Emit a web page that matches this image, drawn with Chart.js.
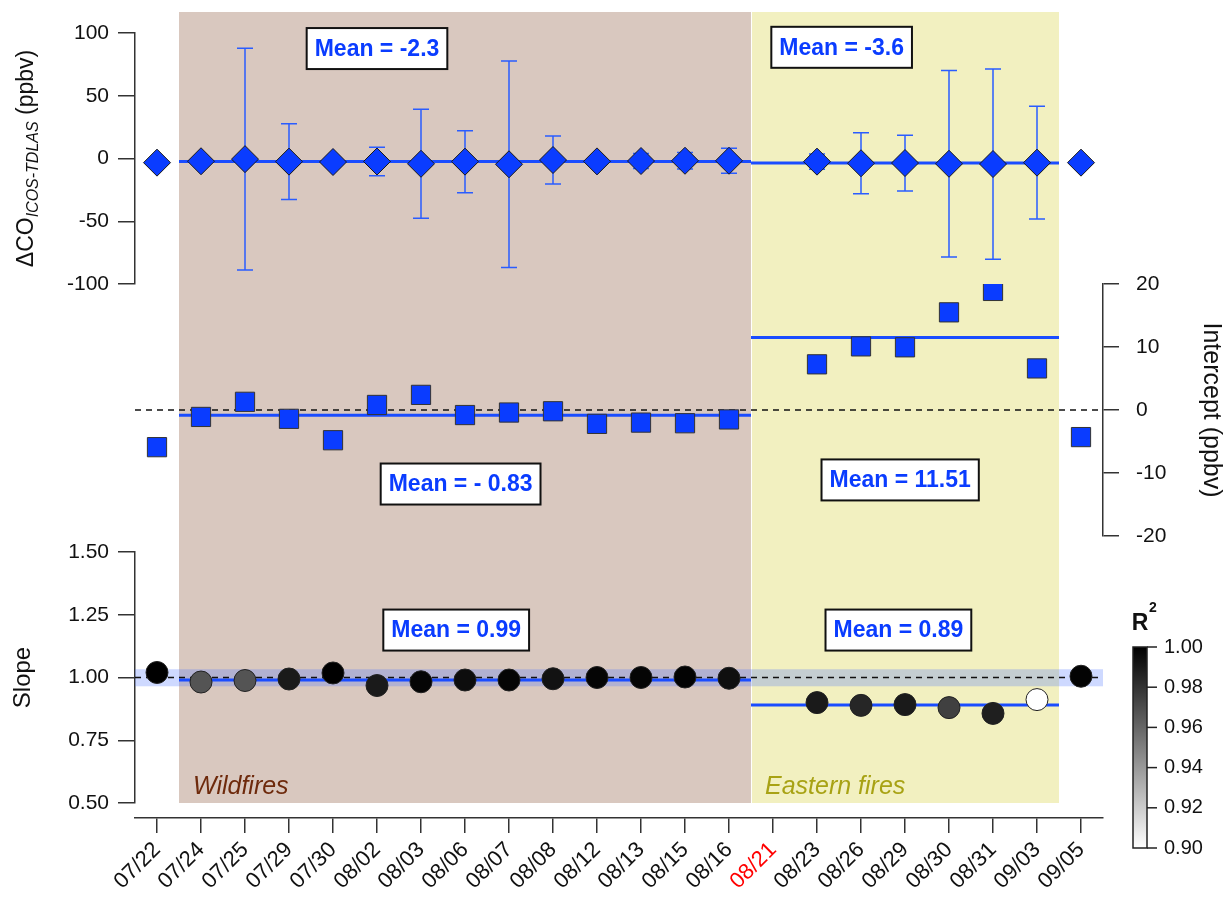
<!DOCTYPE html>
<html>
<head>
<meta charset="utf-8">
<script src="https://cdn.jsdelivr.net/npm/chart.js@4.4.1/dist/chart.umd.min.js"></script>
<style>
  html, body { margin: 0; padding: 0; background: #fff; }
  #wrap { width: 1231px; height: 897px; position: relative; }
</style>
</head>
<body>
<div id="wrap"><canvas id="chart"></canvas></div>
<script>
// ---- data ----
const categories = ['07/22','07/24','07/25','07/29','07/30','08/02','08/03','08/06','08/07','08/08','08/12',
                    '08/13','08/15','08/16','08/21','08/23','08/26','08/29','08/30','08/31','09/03','09/05'];
const highlightDay = '08/21';

// ΔCO (ICOS - TDLAS), ppbv, with symmetric error half-widths
const deltaCO    = [-3.3,-2.2,-0.5,-2.5,-2.8,-2.4,-4.2,-2.5,-4.6,-1.2,-2.3,-2.0,-1.8,-1.8,null,-2.5,-3.8,-3.6,-4.2,-4.4,-3.3,-3.3];
const deltaCOErr = [null,null,88.4,30.2,null,11.3,43.4,24.7,82.2,19.1,null,6.0,6.5,10.0,null,6.0,24.3,22.2,74.3,75.8,44.9,null];

// regression intercept (ppbv), slope and R²
const intercept = [-5.9,-1.1,1.3,-1.4,-4.8,0.8,2.4,-0.8,-0.4,-0.2,-2.2,-2.0,-2.1,-1.5,null,7.25,10.1,9.95,15.5,18.9,6.6,-4.3];
const slope     = [1.020,0.982,0.988,0.994,1.018,0.968,0.983,0.990,0.990,0.995,1.000,1.000,1.002,0.997,null,0.900,0.889,0.892,0.880,0.857,0.912,1.005];
const rSquared  = [1.000,0.967,0.967,0.990,1.000,0.990,0.998,0.995,0.998,0.993,0.998,0.998,0.999,0.994,null,0.990,0.985,0.990,0.975,0.988,0.900,0.999];

// fire periods and their means
const periodNames   = ['Wildfires', 'Eastern fires'];
const periodStart   = ['07/24', '08/21'];
const periodEnd     = ['08/16', '09/03'];
const coMean        = [-2.3, -3.6];
const interceptMean = [-0.83, 11.51];
const slopeMean     = [0.99, 0.89];
const slopeRefBand  = [0.965, 1.033];

// R² colour scale
const r2Range = [0.90, 1.00];
const r2Ticks = [1.00, 0.98, 0.96, 0.94, 0.92, 0.90];

// ---- styling / layout ----
const FONT = '"Liberation Sans", Arial, Helvetica, sans-serif';
const MARK_BLUE = '#0a3cff';
const LINE_BLUE = '#1a4cff';
const ERR_BLUE = '#2a5cff';
const periodFill = ['#d9c8bf', '#f2f0c0'];
const periodText = ['#6e2a0c', '#a8a214'];

// vertical extent of the plot and of each panel's axis (px)
const panelPx = { plotTop: 12, co: [33, 284], intercept: [284, 536], slope: [552, 803], xAxisTop: 818 };
// anchor of each "Mean" box: [category position, axis value]
const meanBoxAt = {
  yCO:    [[5.0, 87.6], [15.56, 88.6]],
  yInt:   [[6.9, -11.75], [16.89, -11.1]],
  ySlope: [[6.8, 1.189], [16.85, 1.189]]
};
const colorbarPx = { left: 1133, right: 1147, top: 647, bottom: 848 };

function grayFor(r) {
  const t = Math.max(0, Math.min(1, (r - r2Range[0]) / (r2Range[1] - r2Range[0])));
  const g = Math.round(255 * (1 - t));
  return `rgb(${g},${g},${g})`;
}
const meanText = (v, digits, spaced) =>
  'Mean = ' + (v < 0 ? (spaced ? '- ' : '-') : '') + Math.abs(v).toFixed(digits);

const coMeanText = coMean.map(v => meanText(v, 1, false));
const interceptMeanText = interceptMean.map(v => meanText(v, 2, true));
const slopeMeanText = slopeMean.map(v => meanText(v, 2, false));

function periodPixels(xs, i) {
  return [xs.getPixelForValue(categories.indexOf(periodStart[i]) - 0.5),
          xs.getPixelForValue(categories.indexOf(periodEnd[i]) + 0.5)];
}

const panelsPlugin = {
  id: 'panels',
  afterLayout(chart) {
    const s = chart.scales;
    const place = (sc, range) => {
      sc.top = range[0]; sc.bottom = range[1]; sc.height = range[1] - range[0];
      sc.configure();
    };
    place(s.yCO, panelPx.co);
    place(s.yInt, panelPx.intercept);
    place(s.ySlope, panelPx.slope);
    const h = s.x.height;
    s.x.top = panelPx.xAxisTop; s.x.bottom = panelPx.xAxisTop + h;
    s.x.configure();
    const ca = chart.chartArea;
    ca.top = panelPx.plotTop;
    ca.bottom = panelPx.slope[1];
    ca.height = ca.bottom - ca.top;
  },
  beforeDraw(chart) {
    const { ctx, chartArea: ca, scales: s } = chart;
    ctx.save();
    periodNames.forEach((n, i) => {
      let [x0, x1] = periodPixels(s.x, i);
      if (i > 0) x0 += 1;
      ctx.fillStyle = periodFill[i];
      ctx.fillRect(x0, ca.top, x1 - x0, ca.bottom - ca.top);
    });
    ctx.restore();
  },
  beforeDatasetsDraw(chart) {
    const { ctx, chartArea: ca, scales: s } = chart;
    ctx.save();
    // slope tolerance band
    const yb0 = s.ySlope.getPixelForValue(slopeRefBand[1]);
    const yb1 = s.ySlope.getPixelForValue(slopeRefBand[0]);
    ctx.fillStyle = 'rgba(80,120,255,0.28)';
    ctx.fillRect(ca.left, yb0, ca.right - ca.left, yb1 - yb0);

    // period mean lines
    const meanLine = (scale, values) => {
      values.forEach((v, i) => {
        const [x0, x1] = periodPixels(s.x, i);
        const y = scale.getPixelForValue(v);
        ctx.beginPath(); ctx.moveTo(x0, y); ctx.lineTo(x1, y);
        ctx.strokeStyle = LINE_BLUE; ctx.lineWidth = 3; ctx.stroke();
      });
    };
    meanLine(s.yCO, coMean);
    meanLine(s.yInt, interceptMean);
    meanLine(s.ySlope, slopeMean);

    // dashed reference lines (intercept = 0, slope = 1)
    ctx.setLineDash([6, 5]);
    ctx.strokeStyle = '#111'; ctx.lineWidth = 1.5;
    [[s.yInt, 0], [s.ySlope, 1]].forEach(([sc, v]) => {
      const y = sc.getPixelForValue(v);
      ctx.beginPath(); ctx.moveTo(ca.left, y); ctx.lineTo(ca.right, y); ctx.stroke();
    });
    ctx.setLineDash([]);

    // ΔCO error bars
    ctx.strokeStyle = ERR_BLUE; ctx.lineWidth = 1.5;
    deltaCO.forEach((v, i) => {
      const e = deltaCOErr[i];
      if (v === null || e === null) return;
      const x = s.x.getPixelForValue(i);
      const yt = s.yCO.getPixelForValue(v + e);
      const yb = s.yCO.getPixelForValue(v - e);
      ctx.beginPath();
      ctx.moveTo(x, yt); ctx.lineTo(x, yb);
      ctx.moveTo(x - 8, yt); ctx.lineTo(x + 8, yt);
      ctx.moveTo(x - 8, yb); ctx.lineTo(x + 8, yb);
      ctx.stroke();
    });
    ctx.restore();
  },
  afterDatasetsDraw(chart) {
    const { ctx, chartArea: ca, scales: s } = chart;
    ctx.save();
    // mean boxes
    ctx.font = `bold 23px ${FONT}`;
    ctx.textAlign = 'center'; ctx.textBaseline = 'middle';
    const boxes = [['yCO', coMeanText], ['yInt', interceptMeanText], ['ySlope', slopeMeanText]];
    boxes.forEach(([id, texts]) => {
      texts.forEach((t, i) => {
        const [cx, cv] = meanBoxAt[id][i];
        const x = s.x.getPixelForValue(cx);
        const y = s[id].getPixelForValue(cv);
        const w = ctx.measureText(t).width + 16, h = 41;
        ctx.fillStyle = '#fff';
        ctx.fillRect(x - w / 2, y - h / 2, w, h);
        ctx.strokeStyle = '#111'; ctx.lineWidth = 2;
        ctx.strokeRect(x - w / 2, y - h / 2, w, h);
        ctx.fillStyle = MARK_BLUE;
        ctx.fillText(t, x, y + 1);
      });
    });
    // period names
    ctx.font = `italic 25px ${FONT}`;
    ctx.textAlign = 'left'; ctx.textBaseline = 'alphabetic';
    periodNames.forEach((n, i) => {
      const [x0] = periodPixels(s.x, i);
      ctx.fillStyle = periodText[i];
      ctx.fillText(n, x0 + 14, ca.bottom - 9);
    });
    ctx.restore();
  },
  afterDraw(chart) {
    const { ctx } = chart;
    ctx.save();
    // R² colour bar
    const cb = colorbarPx;
    const grad = ctx.createLinearGradient(0, cb.top, 0, cb.bottom);
    grad.addColorStop(0, grayFor(r2Range[1]));
    grad.addColorStop(1, grayFor(r2Range[0]));
    ctx.fillStyle = grad;
    ctx.fillRect(cb.left, cb.top, cb.right - cb.left, cb.bottom - cb.top);
    ctx.strokeStyle = '#222'; ctx.lineWidth = 1.5;
    ctx.strokeRect(cb.left, cb.top, cb.right - cb.left, cb.bottom - cb.top);
    ctx.font = `20px ${FONT}`; ctx.fillStyle = '#111';
    ctx.textAlign = 'left'; ctx.textBaseline = 'middle';
    r2Ticks.forEach(v => {
      const y = cb.bottom - (v - r2Range[0]) / (r2Range[1] - r2Range[0]) * (cb.bottom - cb.top);
      ctx.beginPath(); ctx.moveTo(cb.right, y); ctx.lineTo(cb.right + 10, y); ctx.stroke();
      ctx.fillText(v.toFixed(2), cb.right + 17, y);
    });
    ctx.font = `bold 23px ${FONT}`; ctx.textBaseline = 'alphabetic'; ctx.textAlign = 'center';
    ctx.fillText('R', (cb.left + cb.right) / 2, cb.top - 17);
    ctx.font = `bold 14px ${FONT}`;
    ctx.fillText('2', cb.right + 6, cb.top - 35);

    // ΔCO axis title with subscript
    const s = chart.scales.yCO;
    const cy = (s.top + s.bottom) / 2;
    const parts = [
      { t: 'ΔCO', f: `23px ${FONT}`, dy: 0 },
      { t: 'ICOS-TDLAS', f: `italic 16px ${FONT}`, dy: 5 },
      { t: ' (ppbv)', f: `23px ${FONT}`, dy: 0 }
    ];
    let total = 0;
    parts.forEach(p => { ctx.font = p.f; p.w = ctx.measureText(p.t).width; total += p.w; });
    ctx.translate(33, cy);
    ctx.rotate(-Math.PI / 2);
    ctx.textAlign = 'left'; ctx.textBaseline = 'alphabetic'; ctx.fillStyle = '#111';
    let x = -total / 2;
    parts.forEach(p => { ctx.font = p.f; ctx.fillText(p.t, x, p.dy); x += p.w; });
    ctx.restore();
  }
};

const axisLine = { display: true, color: '#333', width: 1.5 };
const tickFont = { family: FONT, size: 21 };

new Chart(document.getElementById('chart'), {
  type: 'line',
  data: {
    labels: categories,
    datasets: [
      {
        label: 'ΔCO', data: deltaCO, yAxisID: 'yCO', showLine: false,
        pointStyle: 'rectRot', pointRadius: 13.5, pointHoverRadius: 13.5,
        backgroundColor: MARK_BLUE, borderColor: '#1a1a1a', borderWidth: 1
      },
      {
        label: 'Intercept', data: intercept, yAxisID: 'yInt', showLine: false,
        pointStyle: 'rect', pointRadius: 13.6, pointHoverRadius: 13.6,
        backgroundColor: MARK_BLUE, borderColor: '#333', borderWidth: 1
      },
      {
        label: 'Slope', data: slope, yAxisID: 'ySlope', showLine: false,
        pointStyle: 'circle', pointRadius: 11, pointHoverRadius: 11,
        backgroundColor: rSquared.map(r => r === null ? 'rgba(0,0,0,0)' : grayFor(r)),
        borderColor: '#222', borderWidth: 1
      }
    ]
  },
  options: {
    animation: false,
    responsive: true,
    maintainAspectRatio: false,
    events: [],
    layout: { padding: { top: 12, left: 0, right: 0, bottom: 0 } },
    plugins: { legend: { display: false }, tooltip: { enabled: false } },
    scales: {
      x: {
        type: 'category', offset: true,
        grid: { display: true, offset: false, drawOnChartArea: false, tickLength: 15, color: '#333', lineWidth: 1.5 },
        border: axisLine,
        ticks: {
          autoSkip: false, minRotation: 45, maxRotation: 45, padding: 4,
          font: { family: FONT, size: 22 },
          color: c => categories[c.index] === highlightDay ? '#ff0000' : '#111'
        },
        afterFit: sc => { sc.height = 94; }
      },
      yCO: {
        type: 'linear', position: 'left', stack: 'left', min: -100, max: 100,
        grid: { display: true, drawOnChartArea: false, tickLength: 17, color: '#333', lineWidth: 1.5 },
        border: axisLine,
        ticks: { stepSize: 50, padding: 9, font: tickFont, color: '#111' },
        afterFit: sc => { sc.width = 135; }
      },
      ySlope: {
        type: 'linear', position: 'left', stack: 'left', min: 0.5, max: 1.5,
        grid: { display: true, drawOnChartArea: false, tickLength: 17, color: '#333', lineWidth: 1.5 },
        border: axisLine,
        ticks: { stepSize: 0.25, padding: 9, font: tickFont, color: '#111', callback: v => Number(v).toFixed(2) },
        title: { display: true, text: 'Slope', font: { family: FONT, size: 24 }, color: '#111', padding: { top: 9, bottom: 0 } },
        afterFit: sc => { sc.width = 135; }
      },
      yInt: {
        type: 'linear', position: 'right', min: -20, max: 20,
        grid: { display: true, drawOnChartArea: false, tickLength: 16, color: '#333', lineWidth: 1.5 },
        border: axisLine,
        ticks: { stepSize: 10, padding: 17, font: tickFont, color: '#111' },
        title: { display: true, text: 'Intercept (ppbv)', font: { family: FONT, size: 25 }, color: '#111', padding: { top: 5, bottom: 0 } },
        afterFit: sc => { sc.width = 128; }
      }
    }
  },
  plugins: [panelsPlugin]
});
</script>
</body>
</html>
